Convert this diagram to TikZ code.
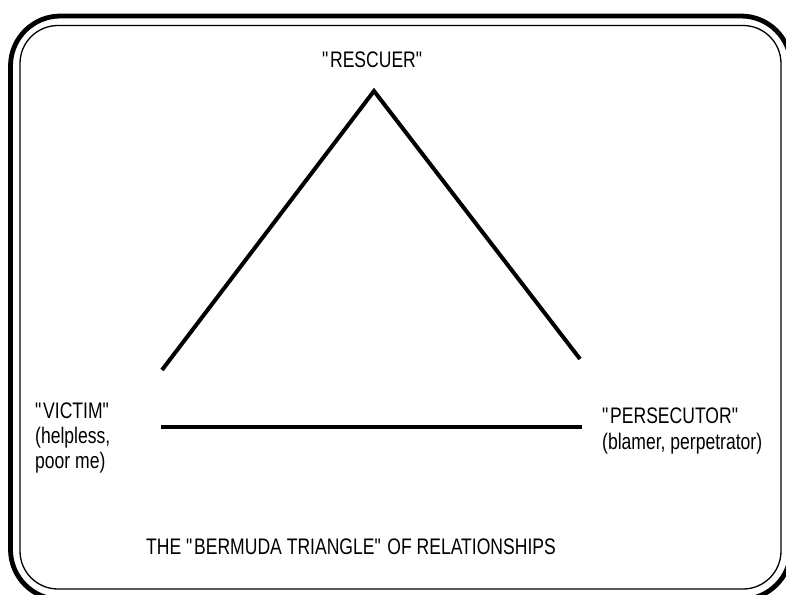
\documentclass[tikz,border=0pt]{standalone}
\usepackage{fontspec}
\setmainfont{Liberation Sans}[FakeStretch=0.78]
\newcommand{\qt}{\textquotedbl}
\begin{document}
\begin{tikzpicture}[x=1pt,y=-1pt,
  lbl/.style={inner sep=0pt, font=\fontsize{22.5}{25}\selectfont},
  edge/.style={line width=4pt},
  outerframe/.style={line width=4.8pt, rounded corners=50pt},
  innerframe/.style={line width=1.3pt, rounded corners=38pt}]
\useasboundingbox (0,0) rectangle (786,594);
\begin{scope}
\clip (0,0) rectangle (786,594);
\draw[outerframe] (10.5,16) rectangle (791,599.5);
\draw[innerframe] (20,25.5) rectangle (781,589);
\end{scope}
% triangle corners
\coordinate (apex) at (374,91);
\coordinate (leftend) at (162,370);
\coordinate (rightend) at (580,359);
\coordinate (basel) at (161,427);
\coordinate (baser) at (582,427);
\draw[edge] (leftend) -- (apex) -- (rightend);
\draw[edge] (basel) -- (baser);
% labels
\node[lbl, anchor=base] (rescuer) at (373,67.5) {\qt RESCUER\qt};
\node[lbl, anchor=base west] (victim1) at (35,418) {\qt VICTIM\qt};
\node[lbl, anchor=base west] (victim2) at (35,443) {(helpless,};
\node[lbl, anchor=base west] (victim3) at (35,468) {poor me)};
\node[lbl, anchor=base west] (pers1) at (602,423) {\qt PERSECUTOR\qt};
\node[lbl, anchor=base west] (pers2) at (602,449) {(blamer, perpetrator)};
\node[lbl, anchor=base west] (title) at (146,554) {THE \qt BERMUDA TRIANGLE\qt{} OF RELATIONSHIPS};
\end{tikzpicture}
\end{document}
